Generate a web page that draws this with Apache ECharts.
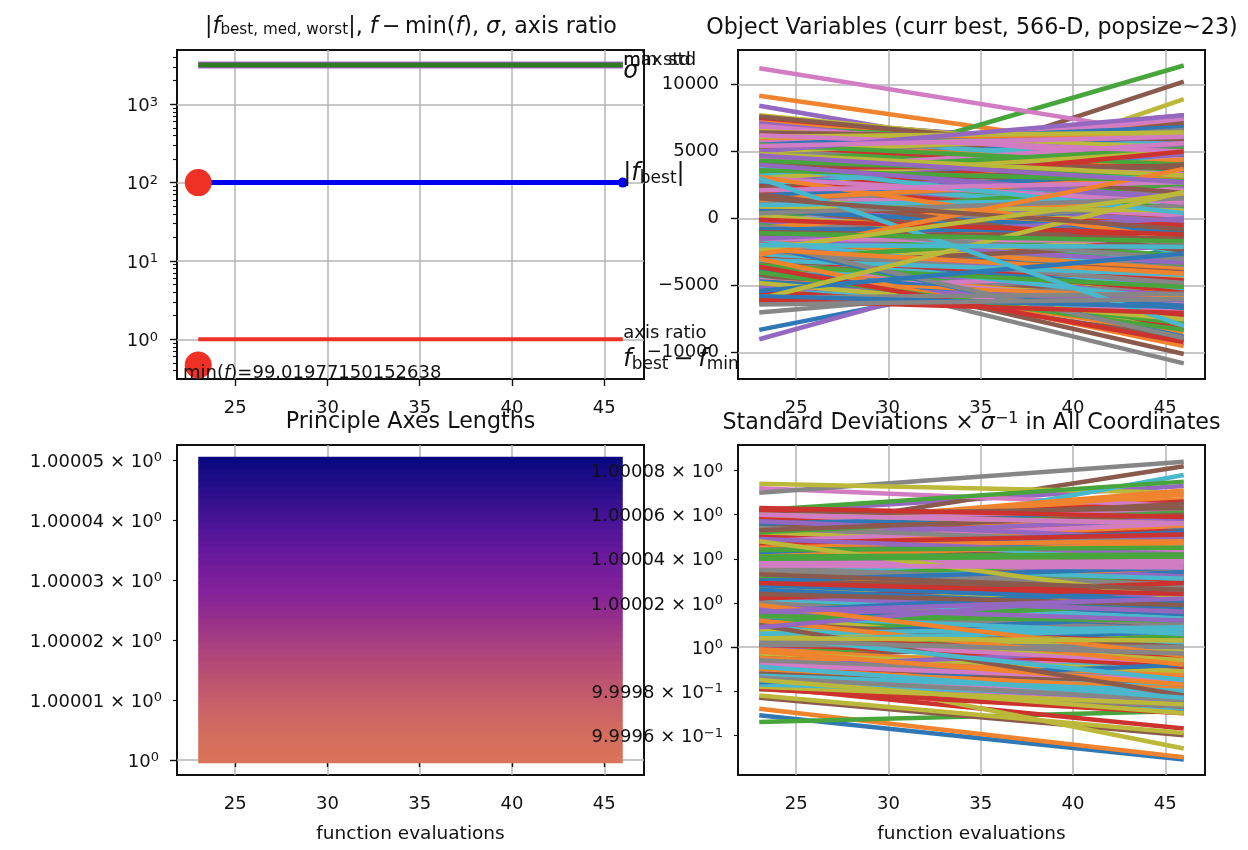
<!DOCTYPE html>
<html><head><meta charset="utf-8">
<style>html,body{margin:0;padding:0;background:#fff}#c{width:1248px;height:850px}</style>
<script src="https://cdn.jsdelivr.net/npm/echarts@6/dist/echarts.min.js"></script>
</head><body><div id="c"></div>
<script>
const evaluations = [23, 46];
const xTicks = [25, 30, 35, 40, 45];

// panel 1
const fBest = [100, 100];
const axisRatio = [1, 1];
const sigma = [3170, 3170];
const maxStd = [3330, 3330];
const minStd = [3020, 3020];
const fMinusFmin = [0.47];
const logMajorTicks = [1, 10, 100, 1000];
const logMinorTicks = [0.4,0.5,0.6,0.7,0.8,0.9,2,3,4,5,6,7,8,9,20,30,40,50,60,70,80,90,200,300,400,500,600,700,800,900,2000,3000,4000];

// panel 2: object variables at the first and last evaluation; order gives the colour cycle
const varTicks = [-10000, -5000, 0, 5000, 10000];
const varStart = [
7000,6600,5500,7300,4900,6200,5900,7500,6800,5200,
5000,7200,6400,5700,7400,4600,6100,5300,6500,4300,
-6000,-5600,-6200,-5200,-4600,-5900,-5000,-6300,-4100,-5500,
-200,500,-400,100,900,-900,300,-600,1300,-100,
1400,2400,1900,2900,3300,1100,2000,3700,2600,1600,
-1900,-1200,-2500,-1600,-3000,-1400,-2200,-3400,-2800,-1800,
-4200,-3400,-4800,-3100,-5000,-3700,-4400,-2900,-5300,-3300,
4400,3500,5100,4000,2800,5600,3800,4900,3200,4500,
-8300,9150,2200,-3200,8400,-150,11200,-3100,-2000,3100,
-5200,7300,6800,7500,-9000,-2900,5600,-7000,7700,7000,
6300,5200,-6200,6000,7100,7600,4700,-6000,-5900,-400,
-6100,2700,5900,-6250,4200,3600,6600,-5500,4800,1900,
3900,-2200,4400,1800,5300,-1700,2500,-4300,900,-3700,
-3500,700,-2600,-700,2100,1500,-1000,-4100,-5200,5600,
1200,-5600,3100,-4500,-1900,5100,300,-2800,3400,-900,
-1300,4300,-3700,3200,1000,-5700,-2400,2000,-3000,4200,
-4400,-800,1600,-5000,6100,-300,-3300,5500,2300,-2200,
4700,-3900,-5400,400,-3200,3000,1300,-1500,-4300,6200,
-2000,5700,2800,4400,-5800,-4600,6900,600,6500,-5000,
2600,1100,-1200,-3800,3700,6400,-4000,-6200,-600,2800,
-5700,3300,-4300,2400,-400,-3400,4100,3900,-1900,-4400,
700,-1600,5100,-2700,-4900,1900,5800,-3600,1700,200,
5500,-4000,100,1000,3300,-2300,-5300,4600,-3500,3400,
-2900,6000,-500,5400,-1400,4500,1800,-900,5000,-1700,
1700,-700,-3100,-5500,2900,-4200,3600,-5800,200,-5800,
-3900,2200,3500,-1100,-2100,800,-4600,1300,6100,-2600,
600,-4700,5500,-3000,3800,-3500,-1500,-2400,3000,4600,
-4700,1400,-3500,3800,-5100,2300,4500,-600,-4800,-3100,
-2000,-3000,-4000,-3600,-1500,4000,6200,-1800,900,1000,
-800,-2300,4300,2000,5000,1800,3000,-5900,4800,3900,
-5400,3100,3600,-100,4000,-1000,2100,400,-6000,3000,
-5800,-2700,-1100,-6100,4700,1500,5400,-6400,-2300,-2000
];
const varEnd = [
5600,6000,7000,5100,7600,6500,6800,5000,5700,7400,
7400,5400,6300,6900,5200,7700,6600,7200,6000,7500,
-6200,-6500,-5900,-7000,-7500,-6300,-7200,-5800,-8000,-6700,
300,-200,600,-700,-500,400,-1100,200,-300,700,
2100,1500,3000,2400,1800,2900,600,2800,3500,900,
-2900,-1100,-1700,-3400,-2100,-3200,-900,-2600,-3600,-700,
-3300,-4900,-4000,-5500,-4500,-2800,-5700,-4100,-4700,-5200,
3700,5000,4300,5600,4100,3400,2900,4500,5300,2400,
-2100,4650,11400,-7100,3000,10200,6100,-10800,8900,-2600,
-5600,4900,5400,4800,-250,-10100,7000,-4300,4700,3600,
6100,7300,-5800,6200,3800,4600,7400,-6300,-5700,-6300,
-4200,6900,3300,-6100,6900,7100,5500,-6700,2900,-1400,
6200,-9000,2100,-4700,3000,-7900,3400,-8300,2400,-6800,
-7400,3300,-6900,-8300,-300,3100,-3200,-5900,-2800,2600,
-1300,-3500,5000,-6600,-4300,2700,-2200,-6400,1200,-3000,
1100,2500,-5300,5200,2800,-4800,-5200,500,-5400,5800,
-2800,-4700,-800,-7600,5900,-2200,-7300,3900,3900,-4600,
3000,-6200,-3400,1800,-5800,600,4200,-3700,-6000,4100,
-4000,3900,800,2300,-7000,-6100,4400,2500,5300,-7600,
4800,-1100,-3300,-1500,1600,5900,-6300,-5000,1700,600,
-7000,5300,-7800,100,2200,-5200,2100,1900,-4400,-2600,
-1700,-3800,3500,-5400,-6500,4300,6500,-1800,-1000,-1900,
6800,-8500,2600,-500,5500,-4000,-4100,6600,-1200,1500,
-5000,6300,-2800,3700,-3300,1900,200,1000,6200,-5200,
3500,1700,-1000,-7200,4800,-8900,5600,-6800,-2100,-6900,
-6700,4400,5200,-1300,-4900,-2300,-7000,3000,6400,-6100,
-900,-5900,4000,-4600,1400,-1900,-1700,-4800,5000,2900,
-6500,3100,-5100,3900,-6100,4000,3300,-3000,-7500,-4200,
-8800,-9500,-8300,-9200,0,3800,5000,-8900,600,1400,
-900,-4100,3200,5000,7700,-2400,1200,-5600,3200,400,
-2600,-1600,2800,-1200,1500,-1500,2700,1500,2000,-8000,
-6600,3700,-1700,-7050,2700,-800,6100,-6000,1900,-2100
];

// panel 3: principal axis lengths, as (length - 1) in millionths
const axisLengths = [50,49,48,47,46,45,44,43,42,41,40,39,38,37,36,35,34,33,32,31,30,29,28,27,26,25,24,23,22,21,20,19,18,17,16,15,14,13,12,11,10,9,8,7,6,5,4,3,2,1,0];
const axisLenTicks = [10,20,30,40,50];
const axisLenTickLabels = ['1.00001','1.00002','1.00003','1.00004','1.00005'];
const rampStops = ['#0a0880','#2c0f8c','#4e1498','#6d1a9c','#84229a','#9c3488','#b24878','#c35a6c','#d06a60','#d97359'];

// panel 4: standard deviations / sigma, as (value - 1) in millionths
const stdTicks = [-40,-20,0,20,40,60,80];
const stdTickLabels = ['9.9996 × 10{e|−1}','9.9998 × 10{e|−1}','10{e|0}','1.00002 × 10{e|0}','1.00004 × 10{e|0}','1.00006 × 10{e|0}','1.00008 × 10{e|0}'];
const stdStart = [
60,57,52,55,47,54,42,49,37,45,
31,25,36,20,33,15,27,10,23,18,
6,-4,12,1,-8,4,-11,8,-2,-6,
-14,-6,-17,-11,-19,-3,-16,-9,-13,-18,
-31,-28,-34,-18,61,52,72,70,74,43,
61,55,62,62,42,-23,51,59,-8,-19,
58,56,59,60,54,55,57,50,-22,48,
46,53,40,58,50,37,47,44,52,38,
35,49,43,33,45,30,41,28,48,24,
27,31,38,22,36,41,25,34,17,29,
20,26,15,39,18,13,32,12,23,16,
10,21,8,24,5,19,11,7,14,2,
0,13,-3,9,16,-5,6,3,-7,4,
-10,3,-6,18,-12,1,-2,-9,8,-14,
12,-9,28,-15,34,-4,-11,7,-13,5,
17,-13,6,-8,-1,-16,22,-12,10,-16,
33,-1,24,44,-11,29,-17,15,31,-18,
39,16,-13,50,26,-7,36,-15,-3,9,
5,47,18,-18,41,11,-14,26,44,-12,
56,-5,37,2,-15,25,48,-17,32,14,
43,28,7,-19,14,47,19,54,-18,22,
24,34,52,1,-9,60,3,-6,27,-17,
-16,41,11,30,57,-12,35,20,6,37,
45,-10,31,4,23,53,-8,36,60,-13,
16,46,14,47,49,30,38,35,8,6,
30,-2,44,22,18,10,38,1,48,5,
26,12,40,63,9,24,37,-14,-15,3,
28,19,41,29,16,33,60,3,4,-9
];
const stdEnd = [
64,67,60,66,55,48,52,57,43,54,
37,20,29,26,25,22,18,17,31,11,
-1,3,5,8,-14,-7,-5,-10,7,-12,
-22,-16,-26,-20,-12,-21,-28,-17,-25,-29,
-51,-50,-29,-37,73,82,64,84,70,78,
53,71,75,58,57,-40,62,62,-46,-28,
51,69,56,52,46,65,63,48,-39,50,
41,58,47,50,58,30,39,51,44,46,
44,42,36,26,36,37,49,33,22,35,
19,38,30,31,43,27,33,24,25,20,
28,13,24,30,9,21,22,19,14,27,
18,11,16,14,13,6,2,12,-4,10,
7,21,5,2,6,3,-4,-7,0,12,
-3,-8,-13,9,-18,9,-11,-1,-10,-6,
23,-17,19,-24,26,-14,-2,-16,-21,15,
8,-22,15,-16,10,-25,12,-19,1,-24,
40,-12,33,35,-2,19,-26,8,20,-9,
34,24,-23,43,17,-18,28,-22,-11,1,
14,55,27,-27,32,0,-21,17,37,-18,
60,-13,28,-9,-24,16,56,-27,39,6,
49,36,-3,-30,22,38,11,47,-26,13,
15,44,61,-5,-1,63,-7,-15,18,-22,
-8,47,20,21,49,-19,44,10,-6,31,
52,-19,40,-3,16,60,-15,28,56,-20,
26,48,12,51,42,26,39,27,-2,9,
36,-17,45,29,12,-22,38,0,22,-15,
18,-8,41,59,25,19,36,-24,-30,8,
21,-4,42,24,22,26,56,-3,3,-23
];

const cycle = ['#2f78b5','#f0842e','#48a53c','#cc322e','#9468c0','#8a5a4c','#d27cc4','#868686','#bcb83a','#4ab8cc'];
const FONT = 'DejaVu Sans', INK = '#111', GRID_C = '#b4b4b4';
const FS = 18;

const grids = [
  {left:177, top:50,  width:467, height:329},
  {left:738, top:50,  width:467, height:329},
  {left:177, top:445, width:467, height:330},
  {left:738, top:445, width:467, height:330}
].map(g => ({...g, show:true, borderColor:'#111', borderWidth:2, backgroundColor:'transparent'}));

const richMath = {
  e:{fontFamily:FONT, fontSize:13, color:INK, padding:[0,0,8,0]}
};

const xAxes = grids.map((g,i) => ({
  type:'value', gridIndex:i, min:21.85, max:47.15, position:'bottom',
  axisLine:{show:false},
  axisTick:{show:true, customValues:xTicks, length:7, lineStyle:{color:INK, width:1.4}},
  axisLabel:{show:true, customValues:xTicks, color:INK, fontFamily:FONT, fontSize:FS, margin:20, hideOverlap:false},
  splitLine:{show:true, lineStyle:{color:GRID_C, width:1.5}},
  name: i>=2 ? 'function evaluations' : '',
  nameLocation:'middle', nameGap:50,
  nameTextStyle:{color:INK, fontFamily:FONT, fontSize:18.5},
  z:1
}));

const yBase = {axisLine:{show:false}, z:1};
const tickStyle = {color:INK, width:1.4};
const minorStyle = {color:INK, width:1.1};
const yAxes = [
  // 0: panel 1 decades
  {...yBase, type:'log', logBase:10, gridIndex:0, min:0.311, max:4930,
   axisTick:{show:true, customValues:logMajorTicks, length:7, lineStyle:tickStyle},
   axisLabel:{show:true, customValues:logMajorTicks, margin:19, padding:[4,0,0,0], color:INK, fontFamily:FONT, fontSize:FS, rich:richMath,
     formatter:v => '10{e|' + Math.round(Math.log10(v)) + '}'},
   splitLine:{show:true, lineStyle:{color:GRID_C, width:1.5}}},
  // 1: panel 1 minor ticks
  {...yBase, type:'log', logBase:10, gridIndex:0, min:0.311, max:4930, position:'left',
   axisTick:{show:true, customValues:logMinorTicks, length:4, lineStyle:minorStyle},
   axisLabel:{show:false}, splitLine:{show:false}},
  // 2: panel 2
  {...yBase, z:6, type:'value', gridIndex:1, min:-11960, max:12556,
   axisTick:{show:true, customValues:varTicks, length:7, lineStyle:tickStyle},
   axisLabel:{show:true, customValues:varTicks, margin:19, color:INK, fontFamily:FONT, fontSize:FS,
     formatter:v => String(v).replace('-', '−')},
   splitLine:{show:false}},
  // 3: panel 2 grid lines, below the marks
  {...yBase, type:'value', gridIndex:1, min:-11960, max:12556, position:'left',
   axisTick:{show:false, customValues:varTicks}, axisLabel:{show:false},
   splitLine:{show:true, lineStyle:{color:GRID_C, width:1.5}}},
  // 4: panel 3 major
  {...yBase, type:'value', gridIndex:2, min:-2.5, max:52.5,
   axisTick:{show:true, customValues:[0], length:7, lineStyle:tickStyle},
   axisLabel:{show:true, customValues:[0], margin:18, padding:[4,0,0,0], color:INK, fontFamily:FONT, fontSize:FS, rich:richMath, formatter:() => '10{e|0}'},
   splitLine:{show:true, lineStyle:{color:GRID_C, width:1.5}}},
  // 5: panel 3 minor
  {...yBase, type:'value', gridIndex:2, min:-2.5, max:52.5, position:'left',
   axisTick:{show:true, customValues:axisLenTicks, length:4, lineStyle:minorStyle},
   axisLabel:{show:true, customValues:axisLenTicks, margin:15, padding:[4,0,0,0], color:INK, fontFamily:FONT, fontSize:FS, rich:richMath,
     formatter:v => axisLenTickLabels[axisLenTicks.indexOf(v)] + ' × 10{e|0}'},
   splitLine:{show:false}},
  // 6: panel 4 major tick and grid line, below the marks
  {...yBase, type:'value', gridIndex:3, min:-58.05, max:91.61,
   axisTick:{show:true, customValues:[0], length:7, lineStyle:tickStyle},
   axisLabel:{show:false},
   splitLine:{show:true, lineStyle:{color:GRID_C, width:1.5}}},
  // 7: panel 4 labels, above the neighbouring panel
  {...yBase, z:8, type:'value', gridIndex:3, min:-58.05, max:91.61, position:'left',
   axisTick:{show:true, customValues:stdTicks, length:4, lineStyle:minorStyle},
   axisLabel:{show:true, customValues:stdTicks, margin:15, padding:[4,0,0,0], color:INK, fontFamily:FONT, fontSize:FS, rich:richMath,
     formatter:v => stdTickLabels[stdTicks.indexOf(v)]},
   splitLine:{show:false}}
];

const line = (xi, yi, ys, color, width) => ({
  type:'line', xAxisIndex:xi, yAxisIndex:yi, silent:true, animation:false, symbol:'none', z:2,
  lineStyle:{color, width}, data:evaluations.map((x,k)=>[x,ys[k]])
});

const series = [];
series.push(line(0,0,maxStd,'#b060d8',3.5));
series.push(line(0,0,minStd,'#b060d8',3.5));
series.push(line(0,0,sigma,'#2f7a22',5.2));
series.push(line(0,0,axisRatio,'#ee3124',4));
series.push(line(0,0,fBest,'#0000ee',5));
series.push({type:'scatter', xAxisIndex:0, yAxisIndex:0, silent:true, animation:false, z:3, symbolSize:27,
  itemStyle:{color:'#ee3124', opacity:1}, data:[[evaluations[0],fBest[0]],[evaluations[0],fMinusFmin[0]]]});
series.push({type:'scatter', xAxisIndex:0, yAxisIndex:0, silent:true, animation:false, z:3, symbolSize:10,
  itemStyle:{color:'#0000ee', opacity:1}, data:[[evaluations[1],fBest[1]]]});

const note = (x, y, formatter) => ({
  value:[x,y],
  label:{show:true, position:'right', distance:0, formatter, color:INK, opacity:1, fontFamily:FONT, fontSize:FS,
    rich:{
      i:{fontStyle:'italic', fontFamily:FONT, fontSize:24, color:INK},
      n:{fontFamily:FONT, fontSize:24, color:INK},
      s:{fontFamily:FONT, fontSize:17, color:INK, padding:[9,0,0,0]},
      j:{fontStyle:'italic', fontFamily:FONT, fontSize:FS, color:INK},
      t:{fontFamily:FONT, fontSize:FS, color:INK}
    }}
});
series.push({type:'scatter', xAxisIndex:0, yAxisIndex:0, silent:true, animation:false, z:20, symbolSize:1,
  itemStyle:{color:'#fff', opacity:0},
  data:[
    note(46,3680,'max std'),
    note(46,3680,'min std'),
    note(46,2585,'{i|σ}'),
    note(46,129,'{n||}{i|f}{s|best}{n||}'),
    note(46,1.2,'axis ratio'),
    note(46,0.544,'{i|f}{s|best}{n|\u2009−\u2009}{i|f}{s|min}'),
    note(22.15,0.37,'{t|min(}{j|f}{t|)=99.01977150152638}')
  ]});

// panel 2
varStart.forEach((s,i) => series.push(line(1,3,[s,varEnd[i]],cycle[i%10],4.5)));

// panel 3
const hex = c => [1,3,5].map(k=>parseInt(c.substr(k,2),16));
const rampAt = t => {
  const p = t*(rampStops.length-1), a = Math.min(Math.floor(p),rampStops.length-2), f = p-a;
  const A = hex(rampStops[a]), B = hex(rampStops[a+1]);
  return 'rgb(' + A.map((v,k)=>Math.round(v+(B[k]-v)*f)).join(',') + ')';
};
axisLengths.forEach((v,i) => series.push(line(2,4,[v,v],rampAt(i/(axisLengths.length-1)),6.5)));

// panel 4
stdStart.forEach((s,i) => series.push(line(3,6,[s,stdEnd[i]],cycle[i%10],4.5)));

const titleStyle = {color:INK, fontFamily:FONT, fontSize:22.2, fontWeight:'normal',
  rich:{
    i:{fontStyle:'italic', fontFamily:FONT, fontSize:22.2, color:INK},
    n:{fontFamily:FONT, fontSize:22.2, color:INK},
    b:{fontFamily:FONT, fontSize:15.2, color:INK, padding:[7,0,0,0]},
    e:{fontFamily:FONT, fontSize:16, color:INK, padding:[0,0,9,0]}
  }};
const titles = [
  {text:'{n||}{i|f}{b|best, med, worst}{n||, }{i|f}{n|\u2009−\u2009min(}{i|f}{n|), }{i|σ}{n|, axis ratio}', left:406, top:11, textAlign:'center', textStyle:titleStyle},
  {text:'Object Variables (curr best, 566-D, popsize~23)', left:967, top:12, textAlign:'center', textStyle:titleStyle},
  {text:'Principle Axes Lengths', left:405.5, top:406, textAlign:'center', textStyle:titleStyle},
  {text:'{n|Standard Deviations × }{i|σ}{e|−1}{n| in All Coordinates}', left:966.5, top:406, textAlign:'center', textStyle:titleStyle}
];

const chart = echarts.init(document.getElementById('c'), null, {renderer:'canvas'});
chart.setOption({animation:false, backgroundColor:'#fff', title:titles, grid:grids, xAxis:xAxes, yAxis:yAxes, series});
</script></body></html>
